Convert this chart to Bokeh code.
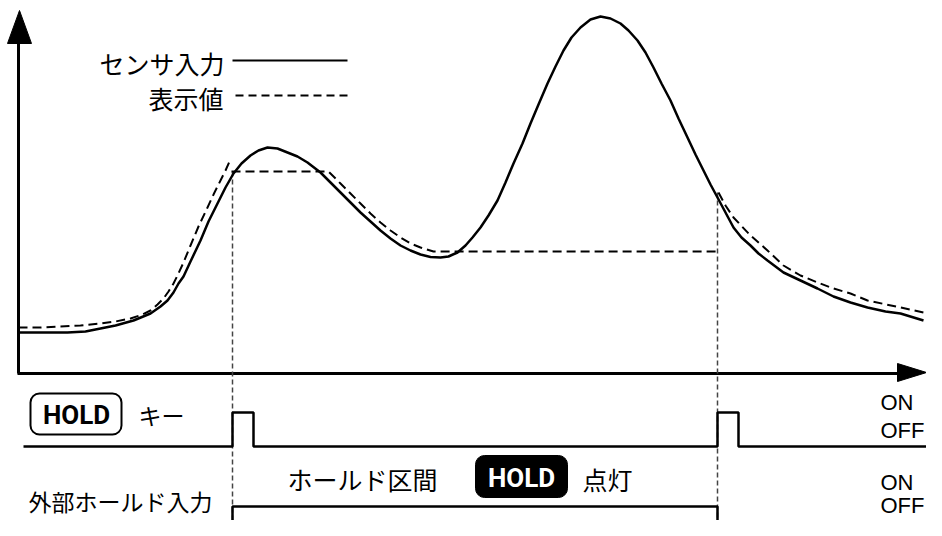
from bokeh.plotting import figure
from bokeh.models import Range1d, BoxAnnotation
from bokeh.core.properties import value
from bokeh.embed import file_html
from bokeh.resources import INLINE

# ---- data (diagram coordinates: x = time, y = screen-like level, top = high) ----
sensor_x = [18, 40, 67, 85, 100, 115, 133, 150, 160, 167, 173, 178, 183, 190, 200, 208, 217, 225, 233,
            241, 250, 258, 267, 277, 287, 297, 307, 320, 330, 340, 350, 360, 370, 380, 390, 400, 410,
            420, 430, 440, 448, 457, 465, 472, 480, 488, 497, 505, 513, 522, 530, 538, 547, 555, 563,
            571, 580, 590, 600, 610, 620, 628, 637, 645, 653, 661, 670, 678, 687, 695, 703, 710, 717,
            725, 733, 741, 750, 758, 767, 783, 800, 817, 833, 850, 867, 885, 900, 923]
sensor_y = [332, 332, 332, 331, 328, 325, 320, 313, 306, 300, 292, 283, 276, 261, 240, 221, 203, 187, 173,
            163, 155, 150, 147, 148, 152, 156, 162, 172, 182, 192, 202, 212, 221, 230, 238, 245, 250,
            254, 256.5, 257, 256, 252, 245, 237, 227, 215, 200, 182, 163, 143, 123, 104, 83, 66, 50,
            37, 27, 19, 16, 18, 23, 30, 40, 52, 67, 83, 100, 118, 137, 154, 170, 184, 197,
            212, 227, 237, 245, 253, 260, 272, 280, 288, 296, 302, 307, 311, 313, 320]

disp_track1_x = [18, 40, 60, 80, 100, 115, 130, 142, 150, 157, 163, 168, 173, 177, 183, 190, 198, 207, 214, 220, 225, 229]
disp_track1_y = [327, 327, 326, 325, 323, 321, 318, 314, 310, 304, 298, 291, 283, 275, 262, 245, 226, 207, 192, 180, 170, 161]

disp_hold_x = [231, 328, 340, 350, 360, 370, 380, 390, 400, 410, 420, 433, 717]
disp_hold_y = [171, 171, 183, 193, 203, 213, 222, 230, 237, 243, 247, 251, 251]

disp_track2_x = [718, 725, 733, 750, 767, 783, 800, 817, 833, 850, 867, 900, 923]
disp_track2_y = [192, 205, 217, 235, 250, 265, 275, 282, 288, 293, 300, 307, 312]

hold_key_x = [23, 232, 232, 253, 253, 717, 717, 738, 738, 930]
hold_key_y = [446, 446, 412, 412, 446, 446, 412, 412, 446, 446]

ext_hold_x = [232, 232, 717, 717]
ext_hold_y = [530, 506, 506, 530]

marker_x = [232, 717]
marker_top = [171, 192]

labels_jp = ["センサ入力", "表示値"]
on_off = ["ON", "OFF", "ON", "OFF"]

# ---- figure ----
p = figure(width=926, height=520, x_range=Range1d(0, 926), y_range=Range1d(520, 0),
           output_backend="svg", toolbar_location=None, x_axis_type=None, y_axis_type=None,
           min_border=0)
p.grid.visible = False
p.outline_line_color = None
p.background_fill_color = "white"
p.border_fill_color = "white"

# axes with arrows
p.line([18, 18], [373, 38], line_color="black", line_width=3)
p.patch([19, 7, 31], [10, 43, 43], color="black")
p.line([17, 900], [373, 373], line_color="black", line_width=3)
p.patch([926, 897, 897], [372, 363, 381], color="black")

# vertical reference dashed markers
for mx, mt in zip(marker_x, marker_top):
    p.line([mx, mx], [mt, 530], line_color="#444444", line_width=1.5, line_dash="5 3")

# curves
p.line(sensor_x, sensor_y, line_color="black", line_width=2.5)
p.line(disp_track1_x, disp_track1_y, line_color="black", line_width=2, line_dash="9 5")
p.line(disp_hold_x, disp_hold_y, line_color="black", line_width=2, line_dash="9 5")
p.line(disp_track2_x, disp_track2_y, line_color="black", line_width=2, line_dash="9 5")

# legend
p.line([232, 347], [60, 60], line_color="black", line_width=2)
p.line([235, 348], [95, 95], line_color="black", line_width=2, line_dash="8 5")
p.text(x=[224, 223], y=[62, 97], text=labels_jp, text_align="right", text_baseline="middle",
       text_font=value("Noto Sans CJK JP"), text_font_size="25px", text_color="black")

# signals
p.line(hold_key_x, hold_key_y, line_color="black", line_width=2.5)
p.line(ext_hold_x, ext_hold_y, line_color="black", line_width=2.5)

# HOLD key box
p.add_layout(BoxAnnotation(left=30, right=121, top=393, bottom=434, border_radius=9, level="underlay",
                           fill_color=None, line_color="black", line_width=2, line_alpha=1))
p.text(x=[76], y=[414.5], text=["HOLD"], text_align="center", text_baseline="middle",
       text_font=value("Roboto"), text_font_style="bold", text_font_size="26px", text_color="black")

# HOLD indicator badge
p.add_layout(BoxAnnotation(left=475, right=567, top=455, bottom=497, border_radius=9, level="underlay",
                           fill_color="black", fill_alpha=1, line_color="black", line_alpha=1))
p.text(x=[521], y=[477], text=["HOLD"], text_align="center", text_baseline="middle",
       text_font=value("Roboto"), text_font_style="bold", text_font_size="26px", text_color="white")

# Japanese labels
p.text(x=[138], y=[414], text=["キー"], text_align="left", text_baseline="middle",
       text_font=value("Noto Sans CJK JP"), text_font_size="23px", text_color="black")
p.text(x=[287, 582], y=[478, 478], text=["ホールド区間", "点灯"], text_align="left", text_baseline="middle",
       text_font=value("Noto Sans CJK JP"), text_font_size="25px", text_color="black")
p.text(x=[28], y=[500], text=["外部ホールド入力"], text_align="left", text_baseline="middle",
       text_font=value("Noto Sans CJK JP"), text_font_size="23px", text_color="black")

# ON / OFF
p.text(x=[880, 880, 880, 880], y=[402, 430, 482, 505], text=on_off, text_align="left", text_baseline="middle",
       text_font=value("Liberation Sans"), text_font_size="22px", text_color="black")

open("out.html", "w").write(file_html(p, INLINE))
